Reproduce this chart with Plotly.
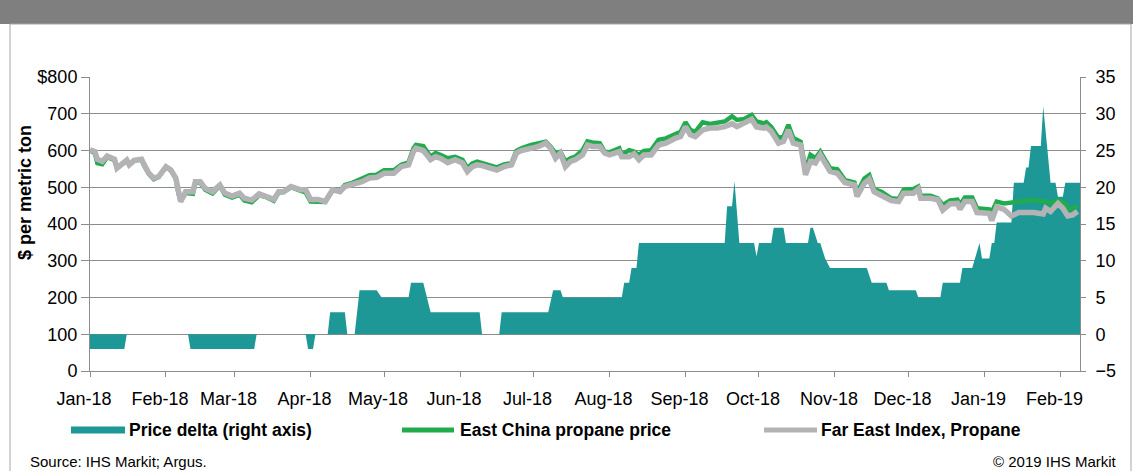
import pandas as pd
import plotly.graph_objects as go

# ---------------------------------------------------------------- data
month_labels = ["Jan-18", "Feb-18", "Mar-18", "Apr-18", "May-18", "Jun-18", "Jul-18",
                "Aug-18", "Sep-18", "Oct-18", "Nov-18", "Dec-18", "Jan-19", "Feb-19"]
left_ticks = [0, 100, 200, 300, 400, 500, 600, 700, 800]
left_tick_text = ["0", "100", "200", "300", "400", "500", "600", "700", "$800"]
right_ticks = [-5, 0, 5, 10, 15, 20, 25, 30, 35]

line_dates = [
    "2018-01-01", "2018-01-03", "2018-01-04", "2018-01-06", "2018-01-08", "2018-01-11",
    "2018-01-12", "2018-01-14", "2018-01-16", "2018-01-17", "2018-01-19", "2018-01-22",
    "2018-01-23", "2018-01-25", "2018-01-27", "2018-01-29", "2018-02-01", "2018-02-03",
    "2018-02-05", "2018-02-06", "2018-02-07", "2018-02-09", "2018-02-12", "2018-02-13",
    "2018-02-15", "2018-02-17", "2018-02-20", "2018-02-23", "2018-02-25", "2018-02-28",
    "2018-03-03", "2018-03-05", "2018-03-08", "2018-03-11", "2018-03-14", "2018-03-17",
    "2018-03-19", "2018-03-21", "2018-03-24", "2018-03-28", "2018-03-30", "2018-04-01",
    "2018-04-04", "2018-04-07", "2018-04-10", "2018-04-13", "2018-04-15", "2018-04-18",
    "2018-04-22", "2018-04-25", "2018-04-28", "2018-05-01", "2018-05-05", "2018-05-08",
    "2018-05-11", "2018-05-13", "2018-05-14", "2018-05-17", "2018-05-20", "2018-05-22",
    "2018-05-24", "2018-05-27", "2018-05-30", "2018-06-02", "2018-06-04", "2018-06-06",
    "2018-06-08", "2018-06-10", "2018-06-14", "2018-06-16", "2018-06-19", "2018-06-22",
    "2018-06-24", "2018-06-26", "2018-06-30", "2018-07-03", "2018-07-06", "2018-07-08",
    "2018-07-10", "2018-07-12", "2018-07-14", "2018-07-16", "2018-07-18", "2018-07-21",
    "2018-07-23", "2018-07-25", "2018-07-28", "2018-07-30", "2018-08-01", "2018-08-05",
    "2018-08-06", "2018-08-09", "2018-08-11", "2018-08-13", "2018-08-15", "2018-08-18",
    "2018-08-21", "2018-08-24", "2018-08-28", "2018-08-30", "2018-09-01", "2018-09-03",
    "2018-09-05", "2018-09-08", "2018-09-11", "2018-09-14", "2018-09-17", "2018-09-20",
    "2018-09-22", "2018-09-25", "2018-09-28", "2018-09-30", "2018-10-03", "2018-10-04",
    "2018-10-06", "2018-10-09", "2018-10-11", "2018-10-13", "2018-10-15", "2018-10-18",
    "2018-10-20", "2018-10-22", "2018-10-24", "2018-10-26", "2018-10-28", "2018-10-30",
    "2018-11-02", "2018-11-05", "2018-11-09", "2018-11-10", "2018-11-13", "2018-11-15",
    "2018-11-17", "2018-11-20", "2018-11-24", "2018-11-27", "2018-11-29", "2018-12-03",
    "2018-12-05", "2018-12-06", "2018-12-10", "2018-12-13", "2018-12-15", "2018-12-18",
    "2018-12-21", "2018-12-22", "2018-12-24", "2018-12-27", "2018-12-29", "2019-01-03",
    "2019-01-04", "2019-01-06", "2019-01-09", "2019-01-12", "2019-01-15", "2019-01-18",
    "2019-01-21", "2019-01-25", "2019-01-26", "2019-01-28", "2019-01-31", "2019-02-02",
    "2019-02-04", "2019-02-06", "2019-02-08",
]

far_east_index = [
    602, 597, 576, 570, 585, 576, 552, 565, 574, 561, 573, 576,
    561, 538, 525, 529, 556, 547, 525, 488, 461, 488, 488, 515,
    515, 497, 488, 506, 484, 476, 484, 470, 465, 482, 476, 467,
    488, 488, 502, 493, 493, 467, 467, 461, 493, 488, 502, 506,
    515, 525, 527, 538, 538, 556, 561, 597, 606, 600, 575, 583,
    579, 567, 575, 566, 543, 556, 561, 559, 552, 547, 556, 561,
    593, 600, 606, 611, 620, 606, 579, 593, 556, 570, 575, 588,
    615, 611, 611, 593, 588, 597, 583, 583, 591, 575, 588, 588,
    615, 620, 634, 638, 665, 643, 638, 656, 661, 661, 665, 673,
    665, 675, 685, 664, 661, 664, 652, 620, 625, 656, 620, 615,
    534, 570, 566, 588, 566, 543, 538, 513, 506, 475, 511, 522,
    488, 479, 464, 461, 484, 484, 495, 470, 470, 466, 438, 455,
    456, 440, 461, 461, 431, 429, 409, 447, 440, 422, 431, 431,
    431, 427, 443, 434, 456, 443, 422, 425, 434,
]

east_china_price = [
    600, 592, 566, 563, 582, 574, 552, 563, 572, 561, 572, 576,
    560, 536, 522, 528, 555, 546, 524, 486, 462, 484, 482, 513,
    512, 493, 483, 504, 480, 472, 480, 464, 459, 478, 473, 463,
    486, 487, 500, 490, 486, 461, 461, 460, 492, 490, 506, 512,
    524, 533, 534, 546, 546, 561, 568, 606, 615, 612, 583, 593,
    588, 579, 583, 575, 552, 565, 570, 566, 560, 554, 562, 566,
    599, 606, 615, 620, 624, 610, 593, 597, 570, 579, 583, 601,
    625, 622, 620, 597, 595, 606, 588, 601, 597, 588, 599, 601,
    629, 633, 647, 651, 677, 656, 651, 677, 672, 674, 679, 693,
    683, 686, 697, 679, 674, 677, 664, 634, 638, 670, 634, 624,
    547, 588, 579, 597, 574, 552, 549, 520, 513, 485, 524, 533,
    495, 488, 470, 468, 493, 495, 502, 477, 477, 470, 452, 464,
    466, 452, 472, 472, 443, 440, 433, 461, 456, 458, 461, 461,
    465, 461, 461, 456, 465, 461, 443, 440, 452,
]

delta_dates = [
    "2018-01-01", "2018-01-15", "2018-01-16", "2018-02-10", "2018-02-11", "2018-03-09",
    "2018-03-10", "2018-03-30", "2018-03-31", "2018-04-02", "2018-04-03", "2018-04-08",
    "2018-04-09", "2018-04-15", "2018-04-16", "2018-04-19", "2018-04-21", "2018-04-28",
    "2018-04-30", "2018-05-11", "2018-05-12", "2018-05-17", "2018-05-20", "2018-06-09",
    "2018-06-10", "2018-06-17", "2018-06-18", "2018-07-07", "2018-07-09", "2018-07-12",
    "2018-07-13", "2018-08-06", "2018-08-07", "2018-08-09", "2018-08-10", "2018-08-12",
    "2018-08-13", "2018-09-17", "2018-09-18", "2018-09-20", "2018-09-21", "2018-09-23",
    "2018-09-29", "2018-09-30", "2018-10-01", "2018-10-06", "2018-10-07", "2018-10-11",
    "2018-10-12", "2018-10-21", "2018-10-22", "2018-10-23", "2018-10-25", "2018-10-26",
    "2018-10-28", "2018-10-30", "2018-11-14", "2018-11-16", "2018-11-22", "2018-11-23",
    "2018-12-04", "2018-12-05", "2018-12-14", "2018-12-15", "2018-12-22", "2018-12-23",
    "2018-12-27", "2018-12-30", "2018-12-31", "2019-01-03", "2019-01-04", "2019-01-05",
    "2019-01-06", "2019-01-12", "2019-01-13", "2019-01-17", "2019-01-18", "2019-01-19",
    "2019-01-20", "2019-01-24", "2019-01-25", "2019-01-28", "2019-01-30", "2019-01-31",
    "2019-02-02", "2019-02-03", "2019-02-09",
]

price_delta = [
    -2, -2, 0, 0, -2, -2, 0, 0, -2, -2,
    0, 0, 3, 3, 0, 0, 6, 6, 5, 5,
    7, 7, 3, 3, 0, 0, 3, 3, 6, 6,
    5, 5, 7, 7, 9, 9, 12.4, 12.4, 17.4, 17.4,
    20.8, 12.4, 12.4, 10.6, 12.4, 12.4, 14.5, 14.5, 12.4, 12.4,
    14.5, 14.5, 12.4, 12.4, 10.3, 9, 9, 7, 7, 6,
    6, 5, 5, 7, 7, 9, 9, 12.4, 10.3, 10.3,
    12.4, 12.4, 15.2, 15.2, 20.6, 20.6, 22.7, 22.7, 25.6, 25.6,
    31, 20.6, 20.6, 18.7, 18.7, 20.6, 20.6,
]

# ---------------------------------------------------------------- styling
TEAL = "#1D9896"
GREEN = "#21AB4C"
GREY_LINE = "#B3B3B5"
AXIS = "#8C8C8C"
FONT = "Liberation Sans, Arial, sans-serif"

W, H = 1133, 471
L, R, T, B = 90, 1080, 77, 371          # plot-area edges in pixels


def fx(px):
    return (px - L) / (R - L)


def fy(py):
    return (B - py) / (B - T)


month_ticks = pd.date_range("2018-01-01", periods=len(month_labels), freq="MS")

fig = go.Figure()

fig.add_trace(go.Scatter(
    x=pd.to_datetime(delta_dates), y=price_delta, yaxis="y2",
    mode="lines", line=dict(color=TEAL, width=0),
    fill="tozeroy", fillcolor=TEAL,
    name="Price delta (right axis)", showlegend=False,
))
fig.add_trace(go.Scatter(
    x=pd.to_datetime(line_dates), y=east_china_price, yaxis="y",
    mode="lines", line=dict(color=GREEN, width=4.5),
    name="East China propane price", showlegend=False,
))
fig.add_trace(go.Scatter(
    x=pd.to_datetime(line_dates), y=far_east_index, yaxis="y",
    mode="lines", line=dict(color=GREY_LINE, width=5.5),
    name="Far East Index, Propane", showlegend=False,
))

shapes = [
    # title band and outer frame
    dict(type="rect", xref="paper", yref="paper", x0=fx(0), x1=fx(W), y0=fy(0), y1=fy(24),
         fillcolor="#7F7F7F", line=dict(width=0), layer="below"),
    dict(type="rect", xref="paper", yref="paper", x0=fx(10), x1=fx(1131), y0=fy(24), y1=fy(480),
         fillcolor="rgba(0,0,0,0)", line=dict(color="#A6A6A6", width=1), layer="below"),
    # legend keys
    dict(type="rect", xref="paper", yref="paper", x0=fx(71), x1=fx(125), y0=fy(426.5), y1=fy(433.5),
         fillcolor=TEAL, line=dict(width=0)),
    dict(type="line", xref="paper", yref="paper", x0=fx(402), x1=fx(454), y0=fy(430), y1=fy(430),
         line=dict(color=GREEN, width=5)),
    dict(type="line", xref="paper", yref="paper", x0=fx(764), x1=fx(817), y0=fy(430), y1=fy(430),
         line=dict(color=GREY_LINE, width=5)),
]

legend_font = dict(family=FONT, size=17.5, color="#000")
note_font = dict(family=FONT, size=15, color="#000")

annotations = [
    dict(text="<b>$ per metric ton</b>", xref="paper", yref="paper", x=fx(25), y=fy(193),
         textangle=-90, showarrow=False, xanchor="center", yanchor="middle",
         font=dict(family=FONT, size=18, color="#000")),
    dict(text="<b>Price delta (right axis)</b>", xref="paper", yref="paper", x=fx(127), y=fy(430),
         showarrow=False, xanchor="left", yanchor="middle", font=legend_font),
    dict(text="<b>East China propane price</b>", xref="paper", yref="paper", x=fx(458), y=fy(430),
         showarrow=False, xanchor="left", yanchor="middle", font=legend_font),
    dict(text="<b>Far East Index, Propane</b>", xref="paper", yref="paper", x=fx(819), y=fy(430),
         showarrow=False, xanchor="left", yanchor="middle", font=legend_font),
    dict(text="Source: IHS Markit; Argus.", xref="paper", yref="paper", x=fx(28), y=fy(461),
         showarrow=False, xanchor="left", yanchor="middle", font=note_font),
    dict(text="© 2019 IHS Markit", xref="paper", yref="paper", x=fx(1119), y=fy(461),
         showarrow=False, xanchor="right", yanchor="middle", font=note_font),
]

tickfont = dict(family=FONT, size=18, color="#000")

fig.update_layout(
    width=W, height=H,
    margin=dict(l=L, r=W - R, t=T, b=H - B, pad=0),
    paper_bgcolor="white", plot_bgcolor="rgba(0,0,0,0)",
    font=dict(family=FONT, color="#000"),
    showlegend=False,
    hovermode=False,
    xaxis=dict(
        type="date", range=["2018-01-01", "2019-02-09"],
        tickvals=month_ticks, ticktext=month_labels,
        ticks="outside", ticklen=5, tickcolor=AXIS, tickwidth=1,
        showline=True, linecolor=AXIS, linewidth=1,
        showgrid=False, zeroline=False,
        ticklabelshift=-6, ticklabelstandoff=6,
        tickfont=dict(family=FONT, size=18, color="#000"),
    ),
    yaxis=dict(
        range=[0, 800], tickvals=left_ticks, ticktext=left_tick_text,
        overlaying="y2", side="left",
        showgrid=True, gridcolor=AXIS, gridwidth=1,
        showline=True, linecolor=AXIS, linewidth=1,
        ticks="outside", ticklen=8, tickcolor=AXIS,
        zeroline=False, tickfont=tickfont,
    ),
    yaxis2=dict(
        range=[-5, 35], tickvals=right_ticks, side="right",
        showgrid=False, showline=True, linecolor=AXIS, linewidth=1,
        ticks="outside", ticklen=5, tickcolor=AXIS,
        zeroline=False, tickfont=tickfont, ticklabelstandoff=6,
    ),
    shapes=shapes,
    annotations=annotations,
)

fig.write_html("out.html", config={"displayModeBar": False})
